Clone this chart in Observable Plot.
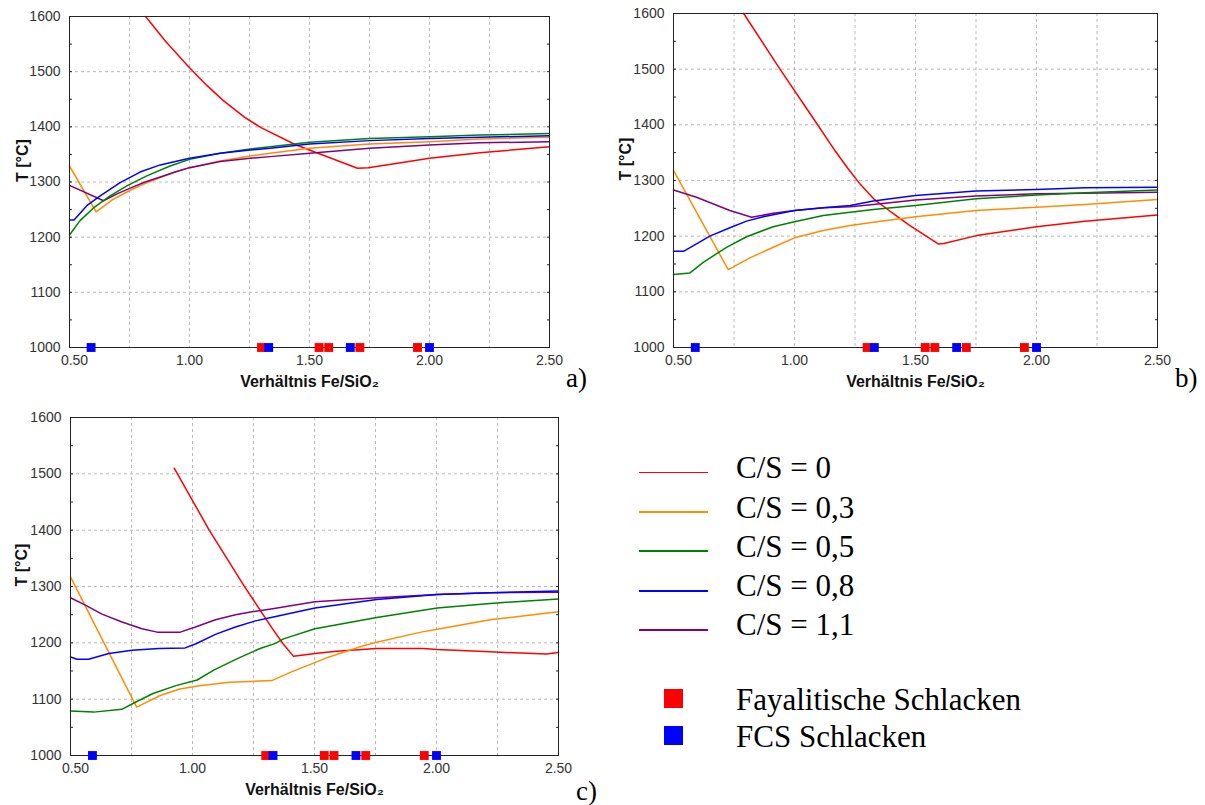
<!DOCTYPE html>
<html><head><meta charset="utf-8">
<script src="https://cdn.jsdelivr.net/npm/d3@7"></script>
<script src="https://cdn.jsdelivr.net/npm/@observablehq/plot@0.6"></script>
<style>
body{margin:0;background:#fff;}
#root{position:relative;width:1205px;height:805px;overflow:hidden;background:#fff;}
.plab{position:absolute;font-family:"Liberation Serif","Times New Roman",serif;font-size:27px;line-height:27px;color:#000;white-space:nowrap;}
.ltxt{position:absolute;font-family:"Liberation Serif","Times New Roman",serif;font-size:31px;line-height:31px;color:#000;white-space:nowrap;}
.lline{position:absolute;left:639px;width:69px;}
.lsq{position:absolute;left:664px;width:19px;height:19px;}
</style></head><body><div id="root"></div><script>
// ---------- tick / label data ----------
const xTicks = [1.0, 1.5, 2.0, 2.5];
const xFirstTick = [0.5];
const xGrid = [0.75, 1.0, 1.25, 1.5, 1.75, 2.0, 2.25];
const yTicks = [1000, 1100, 1200, 1300, 1400, 1500, 1600];
const yMinor = [1050, 1100, 1150, 1200, 1250, 1300, 1350, 1400, 1450, 1500, 1550];
const yGrid = [1100, 1200, 1300, 1400, 1500];
const xTitle = "Verhältnis Fe/SiO₂";
const yTitle = "T [°C]";

// ---------- series names / colours ----------
const seriesNames = ["C/S = 0", "C/S = 0,3", "C/S = 0,5", "C/S = 0,8", "C/S = 1,1"];
const seriesColors = ["#ff0000", "#ff8c00", "#008000", "#0000ff", "#800080"];

// ---------- marker data (on the 1000 °C axis) ----------
const fayalitX = [1.30, 1.54, 1.58, 1.71, 1.95];
const fcsX = [0.59, 1.33, 1.67, 2.00];
const markerNames = ["Fayalitische Schlacken", "FCS Schlacken"];

// ---------- panel a ----------
const aRed = [[0.817,1600],[0.9,1555],[1.0,1507],[1.07,1476],[1.14,1448],[1.23,1417],[1.3,1398],[1.44,1368],[1.53,1353],[1.70,1325],[1.745,1326],[1.88,1335],[2.0,1343],[2.21,1353],[2.5,1364]];
const aOrange = [[0.5,1329],[0.611,1246],[0.68,1268],[0.753,1285],[0.815,1297],[0.878,1308],[0.94,1318],[1.0,1326],[1.128,1338],[1.253,1347],[1.336,1352],[1.5,1361],[1.75,1369],[2.0,1373],[2.21,1378],[2.5,1381]];
const aGreen = [[0.5,1204],[0.544,1230],[0.6,1253],[0.669,1275],[0.739,1293],[0.822,1311],[0.919,1329],[1.0,1341],[1.128,1352],[1.253,1360],[1.336,1364],[1.5,1372],[1.75,1379],[2.0,1382],[2.21,1385],[2.5,1388]];
const aBlue = [[0.5,1231],[0.519,1231],[0.572,1257],[0.628,1275],[0.711,1299],[0.794,1318],[0.878,1331],[1.0,1343],[1.128,1352],[1.253,1358],[1.336,1361],[1.5,1369],[1.75,1375],[2.0,1379],[2.21,1381],[2.5,1384]];
const aPurple = [[0.5,1294],[0.642,1266],[0.7,1279],[0.753,1289],[0.815,1300],[0.878,1309],[0.94,1318],[1.0,1326],[1.128,1337],[1.253,1343],[1.336,1346],[1.5,1352],[1.75,1361],[2.0,1367],[2.21,1371],[2.5,1373]];

// ---------- panel b ----------
const bRed = [[0.79,1600],[0.94,1500],[1.08,1410],[1.17,1352],[1.22,1322],[1.27,1294],[1.33,1266],[1.40,1243],[1.474,1220],[1.594,1186],[1.617,1187],[1.752,1201],[2.0,1217],[2.2,1227],[2.5,1238]];
const bOrange = [[0.5,1318],[0.726,1140],[0.816,1161],[0.912,1180],[1.0,1197],[1.119,1210],[1.23,1219],[1.326,1225],[1.5,1235],[1.75,1246],[2.0,1252],[2.2,1257],[2.5,1266]];
const bGreen = [[0.5,1131],[0.568,1134],[0.623,1153],[0.719,1180],[0.802,1199],[0.912,1217],[1.0,1226],[1.119,1237],[1.23,1243],[1.326,1248],[1.5,1255],[1.75,1267],[2.0,1274],[2.2,1278],[2.5,1283]];
const bBlue = [[0.5,1173],[0.543,1173],[0.595,1186],[0.65,1200],[0.733,1215],[0.802,1227],[0.871,1235],[1.0,1246],[1.119,1251],[1.23,1255],[1.326,1263],[1.5,1273],[1.75,1281],[2.0,1284],[2.2,1287],[2.5,1288]];
const bPurple = [[0.5,1283],[0.595,1270],[0.733,1246],[0.823,1234],[0.912,1241],[1.0,1246],[1.119,1251],[1.23,1253],[1.326,1257],[1.5,1265],[1.75,1272],[2.0,1276],[2.2,1277],[2.5,1279]];

// ---------- panel c ----------
const cRed = [[0.925,1510],[1.066,1402],[1.21,1302],[1.326,1226],[1.372,1198],[1.414,1176],[1.502,1181],[1.59,1185],[1.755,1190],[1.946,1190],[2.003,1188],[2.22,1184],[2.45,1180],[2.5,1183]];
const cOrange = [[0.5,1317],[0.771,1086],[0.87,1107],[0.948,1118],[1.027,1124],[1.152,1130],[1.325,1133],[1.403,1148],[1.56,1175],[1.701,1195],[1.755,1201],[1.936,1219],[2.003,1224],[2.22,1241],[2.5,1255]];
const cGreen = [[0.5,1079],[0.595,1077],[0.71,1082],[0.768,1095],[0.838,1110],[0.932,1124],[1.019,1134],[1.089,1152],[1.184,1172],[1.277,1190],[1.34,1199],[1.373,1207],[1.502,1225],[1.755,1245],[2.003,1262],[2.22,1270],[2.5,1278]];
const cBlue = [[0.5,1175],[0.527,1171],[0.574,1171],[0.657,1181],[0.752,1187],[0.861,1190],[0.97,1191],[1.012,1198],[1.094,1215],[1.176,1228],[1.258,1239],[1.322,1245],[1.502,1262],[1.755,1277],[2.003,1286],[2.22,1289],[2.5,1292]];
const cPurple = [[0.5,1280],[0.561,1267],[0.629,1251],[0.711,1237],[0.793,1225],[0.855,1219],[0.95,1219],[1.012,1228],[1.094,1241],[1.176,1250],[1.244,1255],[1.322,1260],[1.502,1273],[1.755,1280],[2.003,1286],[2.22,1289],[2.5,1290]];

const root = document.getElementById("root");

function panel(series, cfg) {
  const lineMarks = [];
  // draw order: red, orange, purple, green, blue
  const order = [0, 1, 4, 2, 3];
  for (const i of order) {
    lineMarks.push(Plot.line(series[i], {
      x: d => d[0], y: d => d[1], stroke: seriesColors[i],
      strokeWidth: 1.5, curve: "linear"
    }));
  }
  const svg = Plot.plot({
    width: cfg.width, height: cfg.height,
    marginLeft: cfg.ml, marginRight: cfg.mr, marginTop: cfg.mt, marginBottom: cfg.mb,
    x: {domain: [0.5, 2.5]},
    y: {domain: [1000, 1600]},
    style: {fontFamily: "'Liberation Sans', Arial, sans-serif", fontSize: "14px", color: "#333", background: "transparent", overflow: "visible"},
    marks: [
      Plot.gridX(xGrid, {stroke: "#b8b8b8", strokeOpacity: 1, strokeDasharray: "3,3"}),
      Plot.gridY(yGrid, {stroke: "#b8b8b8", strokeOpacity: 1, strokeDasharray: "3,3"}),
      Plot.axisX({ticks: xTicks, tickSize: 0, tickPadding: 8, tickFormat: d3.format(".2f"), label: null}),
      Plot.axisX({ticks: xFirstTick, tickSize: 0, tickPadding: 8, tickFormat: d3.format(".2f"), label: null, dx: 5}),
      Plot.axisY({ticks: yTicks, tickSize: 0, tickPadding: 9, tickFormat: d3.format("d"), label: null}),
      Plot.axisY({ticks: yMinor, tickSize: -3, tickFormat: () => "", label: null, stroke: "#222"}),
      Plot.axisY({anchor: "right", ticks: yMinor, tickSize: -3, tickFormat: () => "", label: null, stroke: "#222"}),
      ...lineMarks,
      Plot.frame({stroke: "#222", strokeWidth: 1}),
      Plot.dot(fayalitX, {x: d => d, frameAnchor: "bottom", symbol: "square", fill: "#ff0000", r: 5}),
      Plot.dot(fcsX, {x: d => d, frameAnchor: "bottom", symbol: "square", fill: "#0000ff", r: 5}),
      Plot.text([yTitle], {text: d => d, frameAnchor: "left", rotate: -90, dx: cfg.ytdx, fontWeight: "bold", fontSize: 16, fill: "#111"}),
      Plot.text([xTitle], {text: d => d, frameAnchor: "bottom", dy: 39, lineAnchor: "bottom", fontWeight: "bold", fontSize: 16, fill: "#111"})
    ]
  });
  svg.style.position = "absolute";
  svg.style.left = cfg.left + "px";
  svg.style.top = cfg.top + "px";
  root.appendChild(svg);
}

panel([aRed, aOrange, aGreen, aBlue, aPurple], {left: 0, top: 0, width: 600, height: 400, ml: 69, mr: 51, mt: 16, mb: 53, ytdx: -47});
panel([bRed, bOrange, bGreen, bBlue, bPurple], {left: 604, top: 0, width: 601, height: 400, ml: 69, mr: 48, mt: 13, mb: 53, ytdx: -48});
panel([cRed, cOrange, cGreen, cBlue, cPurple], {left: 0, top: 400, width: 600, height: 405, ml: 70, mr: 42, mt: 17, mb: 50, ytdx: -49});

// ---------- panel labels ----------
const panelLabels = ["a)", "b)", "c)"];
const labelPos = [[566, 369], [1175, 369], [576, 782]];
panelLabels.forEach((t, i) => {
  const d = document.createElement("div");
  d.className = "plab";
  d.style.left = labelPos[i][0] + "px";
  d.style.top = (labelPos[i][1] - 4) + "px";
  d.textContent = t;
  root.appendChild(d);
});

// ---------- legend ----------
const legendLineY = [472.7, 512, 551, 590.7, 629.7];
seriesNames.forEach((name, i) => {
  const l = document.createElement("div");
  l.className = "lline";
  const h = i === 0 ? 1.2 : 2;
  l.style.top = (legendLineY[i] - h / 2) + "px";
  l.style.height = h + "px";
  l.style.background = seriesColors[i];
  root.appendChild(l);
  const t = document.createElement("div");
  t.className = "ltxt";
  t.style.left = "736px";
  t.style.top = (legendLineY[i] + 5.5 - 26) + "px";
  t.textContent = name;
  root.appendChild(t);
});
const markerColors = ["#ff0000", "#0000ff"];
const markerRowY = [698, 735];
markerNames.forEach((name, i) => {
  const s = document.createElement("div");
  s.className = "lsq";
  s.style.top = (markerRowY[i] - 9.5) + "px";
  s.style.background = markerColors[i];
  root.appendChild(s);
  const t = document.createElement("div");
  t.className = "ltxt";
  t.style.left = "736px";
  t.style.top = (markerRowY[i] + 12 - 26) + "px";
  t.textContent = name;
  root.appendChild(t);
});
</script></body></html>
